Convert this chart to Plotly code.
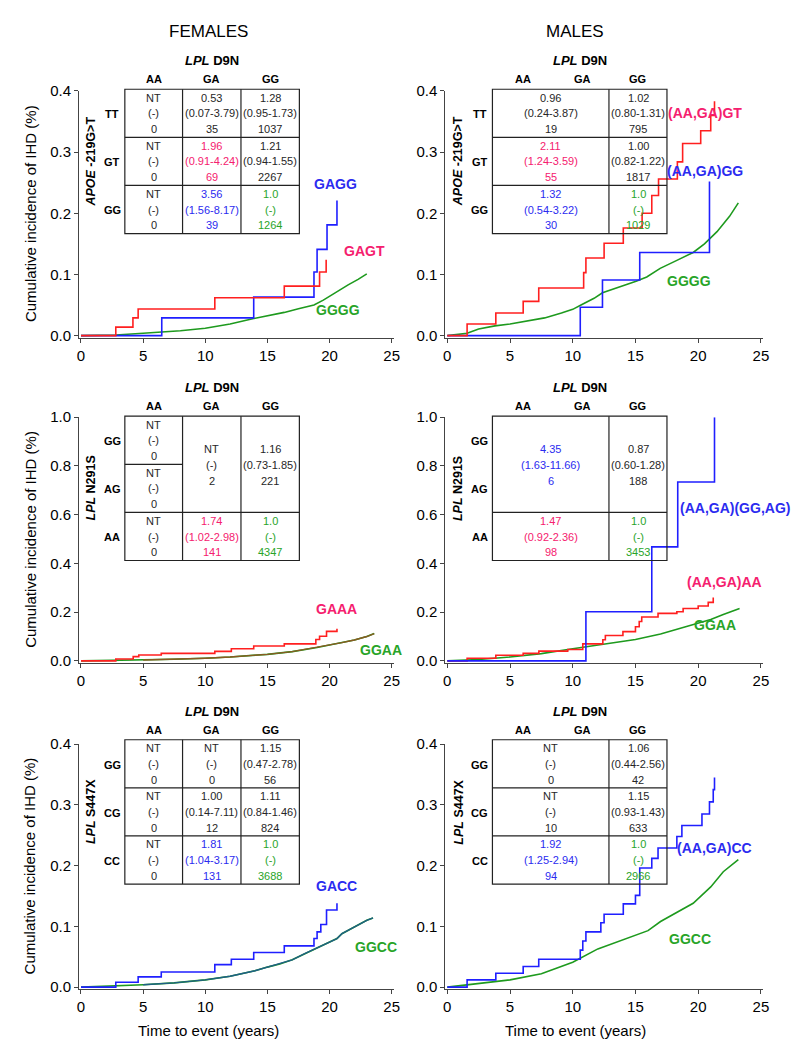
import plotly.graph_objects as go

W, H = 800, 1044

# ---------------- data ----------------
x_tick_vals = [0, 5, 10, 15, 20, 25]

# Females, APOE -219G>T
f1_gagt_x = [0, 2.8, 4.18, 4.6, 10.77, 16.36, 19.2, 19.73]
f1_gagt_y = [0, 0.014, 0.029, 0.0435, 0.062, 0.081, 0.104, 0.124]
f1_gagg_x = [0, 6.5, 13.9, 18.75, 19.0, 19.8, 20.6]
f1_gagg_y = [0, 0.029, 0.063, 0.104, 0.141, 0.181, 0.221]
f1_gggg_x = [0, 2.8, 5, 6.5, 8, 10, 10.77, 12, 13.9, 15, 16.36, 17.5, 18.75, 19.5, 20.35, 21.5, 22.3, 23.0]
f1_gggg_y = [0, 0.001, 0.004, 0.006, 0.008, 0.012, 0.015, 0.019, 0.028, 0.032, 0.038, 0.044, 0.05, 0.058, 0.069, 0.083, 0.092, 0.101]

# Males, APOE -219G>T
m1_gt_x = [0, 1.58, 3.87, 6.05, 7.29, 10.87, 11.05, 12.5, 14.03, 15.53, 16.3, 16.84, 18.34, 18.76, 20.2, 21.0, 21.3]
m1_gt_y = [0, 0.019, 0.037, 0.056, 0.078, 0.103, 0.127, 0.151, 0.176, 0.2, 0.229, 0.256, 0.284, 0.314, 0.335, 0.36, 0.383]
m1_gg_x = [0, 10.6, 12.37, 15.34, 20.9]
m1_gg_y = [0, 0.0465, 0.091, 0.136, 0.252]
m1_gggg_x = [0, 1.58, 2.5, 3.8, 5, 6.45, 7.76, 9.1, 10, 10.66, 11.7, 12.37, 13.8, 15.05, 15.9, 16.97, 18.3, 19.6, 20.5, 21.5, 22.5, 23.2]
m1_gggg_y = [0, 0.004, 0.011, 0.016, 0.019, 0.024, 0.029, 0.037, 0.043, 0.05, 0.061, 0.07, 0.08, 0.089, 0.096, 0.11, 0.123, 0.136, 0.15, 0.17, 0.195, 0.217]

# Females, LPL N291S
f2_gaaa_x = [0, 2.8, 4.2, 4.65, 6.46, 10.77, 12.1, 13.9, 16.36, 18.9, 19.2, 19.76, 20.6]
f2_gaaa_y = [0, 0.008, 0.0175, 0.024, 0.031, 0.039, 0.05, 0.061, 0.07, 0.088, 0.101, 0.121, 0.132]
f2_ggaa_x = [0, 2.8, 5, 7.5, 10, 12, 15, 17, 19, 20, 21, 22, 23, 23.6]
f2_ggaa_y = [0, 0.002, 0.004, 0.007, 0.011, 0.016, 0.027, 0.038, 0.055, 0.065, 0.075, 0.086, 0.1, 0.112]

# Males, LPL N291S
m2_blue_x = [0, 11.05, 16.3, 18.37, 21.3]
m2_blue_y = [0, 0.202, 0.468, 0.734, 1.0]
m2_red_x = [0, 1.58, 3.87, 6.05, 7.3, 9.6, 10.8, 12.4, 12.6, 14.0, 15.0, 15.3, 15.5, 16.8, 18.3, 18.8, 20.0, 20.8, 21.2]
m2_red_y = [0, 0.011, 0.023, 0.031, 0.04, 0.047, 0.07, 0.087, 0.104, 0.12, 0.14, 0.162, 0.18, 0.195, 0.202, 0.215, 0.225, 0.24, 0.26]
m2_ggaa_x = [0, 2.5, 5, 7.5, 10, 12.5, 15, 17, 19.6, 21, 22, 23.3]
m2_ggaa_y = [0, 0.006, 0.016, 0.03, 0.05, 0.07, 0.088, 0.11, 0.148, 0.17, 0.19, 0.215]

# Females, LPL S447X
f3_gacc_x = [0, 2.8, 4.6, 6.46, 10.77, 12.1, 13.9, 16.36, 18.75, 19.0, 19.3, 19.76, 20.6]
f3_gacc_y = [0, 0.008, 0.017, 0.025, 0.037, 0.046, 0.057, 0.068, 0.08, 0.091, 0.103, 0.127, 0.138]
f3_ggcc_x = [0, 2.8, 5, 7.5, 10, 12, 14, 15, 16, 17, 18, 19, 20, 20.6, 21, 22, 23, 23.5]
f3_ggcc_y = [0, 0.002, 0.004, 0.007, 0.012, 0.018, 0.027, 0.033, 0.038, 0.045, 0.055, 0.065, 0.075, 0.08, 0.088, 0.099, 0.11, 0.114]

# Males, LPL S447X
m3_cc_x = [0, 1.58, 3.87, 6.05, 7.29, 10.6, 10.8, 11.05, 12.24, 12.5, 14.03, 15.0, 15.34, 16.3, 16.8, 18.3, 18.7, 20.3, 20.9, 21.2, 21.3]
m3_cc_y = [0, 0.012, 0.023, 0.034, 0.046, 0.061, 0.076, 0.091, 0.106, 0.12, 0.137, 0.151, 0.196, 0.212, 0.229, 0.248, 0.266, 0.285, 0.305, 0.325, 0.345]
m3_ggcc_x = [0, 1.58, 5, 7.5, 10, 12, 14, 15, 16, 17, 18, 19.6, 21, 22, 23.2]
m3_ggcc_y = [0, 0.004, 0.012, 0.022, 0.041, 0.063, 0.078, 0.085, 0.093, 0.108, 0.12, 0.138, 0.165, 0.19, 0.21]

# Tables (rows x 3 lines)
t_female_apoe = {
    "rows": ["TT", "GT", "GG"],
    "cells": [
        [["NT", "(-)", "0"], ["0.53", "(0.07-3.79)", "35"], ["1.28", "(0.95-1.73)", "1037"]],
        [["NT", "(-)", "0"], ["1.96", "(0.91-4.24)", "69"], ["1.21", "(0.94-1.55)", "2267"]],
        [["NT", "(-)", "0"], ["3.56", "(1.56-8.17)", "39"], ["1.0", "(-)", "1264"]],
    ],
}
t_male_apoe = {
    "rows": ["TT", "GT", "GG"],
    "cells": [
        [["0.96", "(0.24-3.87)", "19"], ["1.02", "(0.80-1.31)", "795"]],
        [["2.11", "(1.24-3.59)", "55"], ["1.00", "(0.82-1.22)", "1817"]],
        [["1.32", "(0.54-3.22)", "30"], ["1.0", "(-)", "1029"]],
    ],
}
t_female_n291 = {
    "rows": ["GG", "AG", "AA"],
    "aa_col": [["NT", "(-)", "0"], ["NT", "(-)", "0"], ["NT", "(-)", "0"]],
    "merged": [["NT", "(-)", "2"], ["1.16", "(0.73-1.85)", "221"]],
    "last": [["1.74", "(1.02-2.98)", "141"], ["1.0", "(-)", "4347"]],
}
t_male_n291 = {
    "rows": ["GG", "AG", "AA"],
    "merged": [["4.35", "(1.63-11.66)", "6"], ["0.87", "(0.60-1.28)", "188"]],
    "last": [["1.47", "(0.92-2.36)", "98"], ["1.0", "(-)", "3453"]],
}
t_female_s447 = {
    "rows": ["GG", "CG", "CC"],
    "cells": [
        [["NT", "(-)", "0"], ["NT", "(-)", "0"], ["1.15", "(0.47-2.78)", "56"]],
        [["NT", "(-)", "0"], ["1.00", "(0.14-7.11)", "12"], ["1.11", "(0.84-1.46)", "824"]],
        [["NT", "(-)", "0"], ["1.81", "(1.04-3.17)", "131"], ["1.0", "(-)", "3688"]],
    ],
}
t_male_s447 = {
    "rows": ["GG", "CG", "CC"],
    "cells": [
        [["NT", "(-)", "0"], ["1.06", "(0.44-2.56)", "42"]],
        [["NT", "(-)", "10"], ["1.15", "(0.93-1.43)", "633"]],
        [["1.92", "(1.25-2.94)", "94"], ["1.0", "(-)", "2966"]],
    ],
}

# ---------------- styles ----------------
FONT = "Liberation Sans, Arial, Helvetica, sans-serif"
RED = "#ff1f1f"
BLUE = "#1f1fff"
GREEN = "#1e9a1e"
PINK_T = "#f5206e"
BLUE_T = "#2b2bf0"
GREEN_T = "#28a428"
BLACK_T = "#262626"

cols_px = {0: (71.7, 385.5), 1: (441.7, 758.5)}          # x px of data 0 and 25
rows_px = {0: (323.3, 75.0, 0.4), 1: (653.3, 406.0, 1.0), 2: (984.3, 737.7, 0.4)}  # y0px, ytop px, ymax

fig = go.Figure()
annotations = []
shapes = []


def px2x(px):
    return px / W


def px2y(py):
    return 1 - py / H


def axis_ids(c, r):
    return r * 2 + c + 1


for r in range(3):
    for c in range(2):
        n = axis_ids(c, r)
        x0, x25 = cols_px[c]
        y0, ytop, ymax = rows_px[r]
        sx = (x25 - x0) / 25.0
        xr = [-0.15, 25.15]
        xd = [px2x(x0 + xr[0] * sx), px2x(x0 + xr[1] * sx)]
        sy = (y0 - ytop) / ymax
        yr = [-ymax * 0.008, ymax]
        yd = [px2y(y0 - yr[0] * sy), px2y(ytop)]
        sfx = "" if n == 1 else str(n)
        fig.layout["xaxis" + sfx] = dict(
            domain=xd, range=xr, anchor="y" + sfx, tickvals=x_tick_vals,
            showgrid=False, zeroline=False, showline=True, linecolor="#444", linewidth=1,
            ticks="outside", ticklen=4, tickcolor="#444",
            tickfont=dict(family=FONT, size=15, color="black"),
        )
        yt = [i / 10 for i in range(0, 5)] if ymax < 0.5 else [0, 0.2, 0.4, 0.6, 0.8, 1.0]
        fig.layout["yaxis" + sfx] = dict(
            domain=yd, range=yr, anchor="x" + sfx, tickvals=yt, tickformat=".1f",
            showgrid=False, zeroline=False, showline=True, linecolor="#444", linewidth=1,
            ticks="outside", ticklen=4, tickcolor="#444",
            tickfont=dict(family=FONT, size=15, color="black"),
        )


def add_line(c, r, xs, ys, color, step=True, width=1.6):
    n = axis_ids(c, r)
    sfx = "" if n == 1 else str(n)
    fig.add_trace(go.Scatter(
        x=xs, y=ys, mode="lines", xaxis="x" + sfx, yaxis="y" + sfx,
        line=dict(color=color, width=width, shape="hv" if step else "linear"),
        showlegend=False, hoverinfo="skip",
    ))


def text(px, py, s, size=11, color=BLACK_T, bold=False, angle=0, xanchor="center"):
    if bold:
        s = "<b>" + s + "</b>"
    annotations.append(dict(
        x=px2x(px), y=px2y(py), xref="paper", yref="paper", text=s, showarrow=False,
        xanchor=xanchor, yanchor="middle", textangle=angle,
        font=dict(family=FONT, size=size, color=color),
    ))


def rect(x0, y0, x1, y1):
    shapes.append(dict(type="rect", xref="paper", yref="paper",
                       x0=px2x(x0), x1=px2x(x1), y0=px2y(y0), y1=px2y(y1),
                       line=dict(color="#222", width=1.2), fillcolor="rgba(0,0,0,0)"))


def hline(x0, x1, y):
    shapes.append(dict(type="line", xref="paper", yref="paper",
                       x0=px2x(x0), x1=px2x(x1), y0=px2y(y), y1=px2y(y),
                       line=dict(color="#222", width=1.2)))


def vline(x, y0, y1):
    shapes.append(dict(type="line", xref="paper", yref="paper",
                       x0=px2x(x), x1=px2x(x), y0=px2y(y0), y1=px2y(y1),
                       line=dict(color="#222", width=1.2)))


def cell_text(cx, cy_center, lines, color):
    for i, s in enumerate(lines):
        text(cx, cy_center + (i - 1) * 16, s, size=11, color=color)


ROWH = 48.8


def table_frame(c, top, ylabel_html, row_labels, two_col):
    off = 0 if c == 0 else 371.3
    left, right = 116 + off, 292.3 + off
    bottom = top + 3 * ROWH
    rect(left, top, right, bottom)
    text(204.2 + off, top - 29, "<i>LPL</i> D9N", size=13, color="black", bold=True)
    for lab, cx in zip(["AA", "GA", "GG"], [145.2, 203.8, 262.8]):
        ox = 0
        if two_col and lab != "GG":
            ox = 2 if lab == "AA" else 3
        text(cx + off + ox, top - 10, lab, size=11, color="black", bold=True)
    for i, lab in enumerate(row_labels):
        text(103.3 + off, top + ROWH * (i + 0.5) + 1, lab, size=11, color="black", bold=True)
    text(82 + off, top + 1.5 * ROWH, ylabel_html, size=12.5, color="black", bold=True, angle=-90)
    return off, left, right, bottom


# ---------- Panel (0,0): females APOE ----------
top = 73.3
off, L, R, B = table_frame(0, top, "<i>APOE</i> -219G>T", t_female_apoe["rows"], False)
colx = [145.2, 203.8, 262.8]
vline(174.3, top, B); vline(233.3, top, B)
hline(L, R, top + ROWH); hline(L, R, top + 2 * ROWH)
colors_f1 = [[BLACK_T, BLACK_T, BLACK_T], [BLACK_T, PINK_T, BLACK_T], [BLACK_T, BLUE_T, GREEN_T]]
for i in range(3):
    for j in range(3):
        cell_text(colx[j], top + ROWH * i + 24.5, t_female_apoe["cells"][i][j], colors_f1[i][j])

# ---------- Panel (1,0): males APOE ----------
off, L, R, B = table_frame(1, top, "<i>APOE</i> -219G>T", t_male_apoe["rows"], True)
vline(605, top, B)
hline(L, R, top + ROWH); hline(L, R, top + 2 * ROWH)
colx2 = [546.2, 634.5]
colors_m1 = [[BLACK_T, BLACK_T], [PINK_T, BLACK_T], [BLUE_T, GREEN_T]]
for i in range(3):
    for j in range(2):
        cell_text(colx2[j], top + ROWH * i + 24.5, t_male_apoe["cells"][i][j], colors_m1[i][j])

# ---------- Panel (0,1): females N291S ----------
top = 405.0
off, L, R, B = table_frame(0, top, "<i>LPL</i> N291S", t_female_n291["rows"], False)
vline(174.3, top, B); vline(233.3, top, B)
hline(L, 174.3, top + ROWH); hline(L, R, top + 2 * ROWH)
for i in range(3):
    cell_text(colx[0], top + ROWH * i + 24.5, t_female_n291["aa_col"][i], BLACK_T)
cell_text(colx[1], top + ROWH + 1, t_female_n291["merged"][0], BLACK_T)
cell_text(colx[2], top + ROWH + 1, t_female_n291["merged"][1], BLACK_T)
cell_text(colx[1], top + 2 * ROWH + 24.5, t_female_n291["last"][0], PINK_T)
cell_text(colx[2], top + 2 * ROWH + 24.5, t_female_n291["last"][1], GREEN_T)

# ---------- Panel (1,1): males N291S ----------
off, L, R, B = table_frame(1, top, "<i>LPL</i> N291S", t_male_n291["rows"], True)
vline(605, top, B)
hline(L, R, top + 2 * ROWH)
cell_text(colx2[0], top + ROWH + 1, t_male_n291["merged"][0], BLUE_T)
cell_text(colx2[1], top + ROWH + 1, t_male_n291["merged"][1], BLACK_T)
cell_text(colx2[0], top + 2 * ROWH + 24.5, t_male_n291["last"][0], PINK_T)
cell_text(colx2[1], top + 2 * ROWH + 24.5, t_male_n291["last"][1], GREEN_T)

# ---------- Panel (0,2): females S447X ----------
top = 733.3
off, L, R, B = table_frame(0, top, "<i>LPL</i> S447X", t_female_s447["rows"], False)
vline(174.3, top, B); vline(233.3, top, B)
hline(L, R, top + ROWH); hline(L, R, top + 2 * ROWH)
colors_f3 = [[BLACK_T, BLACK_T, BLACK_T], [BLACK_T, BLACK_T, BLACK_T], [BLACK_T, BLUE_T, GREEN_T]]
for i in range(3):
    for j in range(3):
        cell_text(colx[j], top + ROWH * i + 24.5, t_female_s447["cells"][i][j], colors_f3[i][j])

# ---------- Panel (1,2): males S447X ----------
off, L, R, B = table_frame(1, top, "<i>LPL</i> S447X", t_male_s447["rows"], True)
vline(605, top, B)
hline(L, R, top + ROWH); hline(L, R, top + 2 * ROWH)
colors_m3 = [[BLACK_T, BLACK_T], [BLACK_T, BLACK_T], [BLUE_T, GREEN_T]]
for i in range(3):
    for j in range(2):
        cell_text(colx2[j], top + ROWH * i + 24.5, t_male_s447["cells"][i][j], colors_m3[i][j])

# ---------------- curves ----------------
add_line(0, 0, f1_gggg_x, f1_gggg_y, GREEN, step=False)
add_line(0, 0, f1_gagg_x, f1_gagg_y, BLUE)
add_line(0, 0, f1_gagt_x, f1_gagt_y, RED)

add_line(1, 0, m1_gggg_x, m1_gggg_y, GREEN, step=False)
add_line(1, 0, m1_gg_x, m1_gg_y, BLUE)
add_line(1, 0, m1_gt_x, m1_gt_y, RED)

add_line(0, 1, f2_ggaa_x, f2_ggaa_y, GREEN, step=False)
add_line(0, 1, f2_ggaa_x[2:], f2_ggaa_y[2:], "#8a5a22", step=False, width=1.4)
add_line(0, 1, f2_gaaa_x, f2_gaaa_y, RED)

add_line(1, 1, m2_ggaa_x, m2_ggaa_y, GREEN, step=False)
add_line(1, 1, m2_red_x, m2_red_y, RED)
add_line(1, 1, m2_blue_x, m2_blue_y, BLUE)

add_line(0, 2, f3_ggcc_x, f3_ggcc_y, GREEN, step=False)
add_line(0, 2, f3_ggcc_x[2:], f3_ggcc_y[2:], "#1f5f86", step=False, width=1.4)
add_line(0, 2, f3_gacc_x, f3_gacc_y, BLUE)

add_line(1, 2, m3_ggcc_x, m3_ggcc_y, GREEN, step=False)
add_line(1, 2, m3_cc_x, m3_cc_y, BLUE)

# ---------------- curve labels ----------------
text(329, 169, "GAGG", 14, BLUE_T, True)
text(358, 237, "GAGT", 14, PINK_T, True)
text(331, 297, "GGGG", 14, GREEN_T, True)

text(702, 97, "(AA,GA)GT", 14, PINK_T, True)
text(702, 156, "(AA,GA)GG", 14, BLUE_T, True)
text(686, 268, "GGGG", 14, GREEN_T, True)

text(330, 601, "GAAA", 14, PINK_T, True)
text(375, 642, "GGAA", 14, GREEN_T, True)

text(732, 498, "(AA,GA)(GG,AG)", 14, BLUE_T, True)
text(722, 573, "(AA,GA)AA", 14, PINK_T, True)
text(712, 617, "GGAA", 14, GREEN_T, True)

text(330, 882, "GACC", 14, BLUE_T, True)
text(370, 944, "GGCC", 14, GREEN_T, True)

text(712, 843, "(AA,GA)CC", 14, BLUE_T, True)
text(687, 935, "GGCC", 14, GREEN_T, True)

# ---------------- titles ----------------
text(200, 15, "FEMALES", 17, "black")
text(571, 15, "MALES", 17, "black")
for r in range(3):
    y0, ytop, ymax = rows_px[r]
    text(20, (y0 + ytop) / 2, "Cumulative incidence of IHD (%)", 15, "black", angle=-90)
text(200, 1028, "Time to event (years)", 15, "black")
text(571, 1028, "Time to event (years)", 15, "black")

fig.update_layout(
    width=W, height=H, margin=dict(l=0, r=0, t=0, b=0),
    paper_bgcolor="white", plot_bgcolor="white",
    annotations=annotations, shapes=shapes, showlegend=False,
)
fig.write_html("out.html")
